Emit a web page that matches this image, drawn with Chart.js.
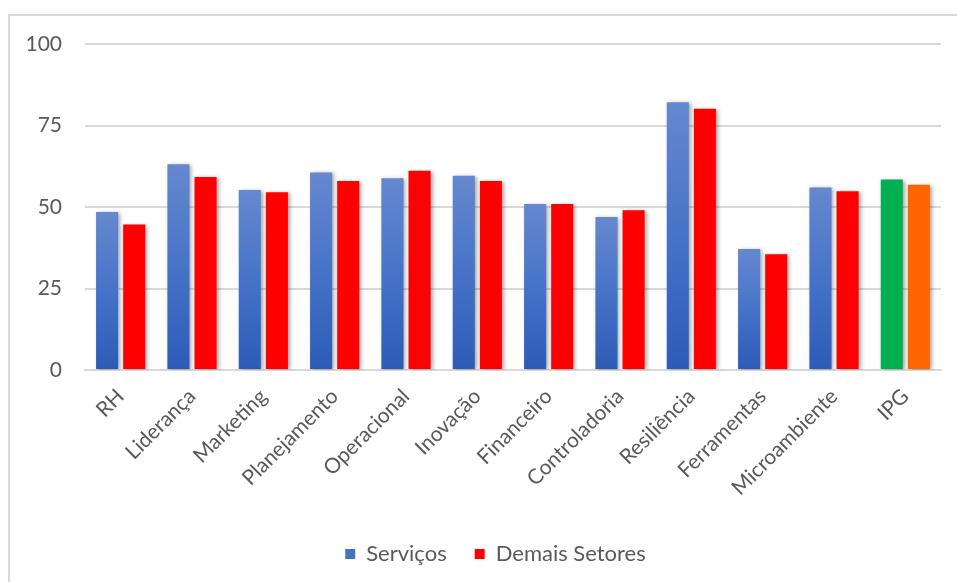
<!DOCTYPE html>
<html>
<head>
<meta charset="utf-8">
<script src="https://cdn.jsdelivr.net/npm/chart.js@4"></script>
<style>
  html, body { margin: 0; padding: 0; background: #fff; }
  #frame {
    position: absolute; left: 8px; top: 14px;
    width: 949px; height: 568px;
    box-sizing: border-box;
    border-top: 2px solid #d9d9d9;
    border-left: 2px solid #d9d9d9;
  }
  #chart { display: block; }
</style>
</head>
<body>
<div id="frame"><canvas id="chart" width="947" height="566"></canvas></div>
<script>
const categories = ['RH', 'Liderança', 'Marketing', 'Planejamento', 'Operacional', 'Inovação',
  'Financeiro', 'Controladoria', 'Resiliência', 'Ferramentas', 'Microambiente', 'IPG'];
const servicos = [48.5, 63.1, 55.2, 60.6, 58.8, 59.6, 50.9, 46.9, 82.1, 37.1, 56.0, 58.4];
const demaisSetores = [44.6, 59.2, 54.5, 58.0, 61.1, 58.0, 50.9, 49.0, 80.1, 35.5, 54.8, 56.8];
const yTicks = [0, 25, 50, 75, 100];

const FONT = 'Lato, "Open Sans", sans-serif';
const TEXT = '#595959';
const GRID = '#d9d9d9';

// vertical blue gradient per bar, light at the top, dark at the base
function blueFill(ctx) {
  const chart = ctx.chart;
  const area = chart.chartArea;
  if (!area || ctx.type !== 'data') return '#4472c4';
  const last = ctx.dataIndex === categories.length - 1;
  if (last) return '#00b050';
  const y = chart.scales.y;
  const top = y.getPixelForValue(ctx.raw);
  const g = chart.ctx.createLinearGradient(0, top, 0, area.bottom);
  g.addColorStop(0, '#6688cf');
  g.addColorStop(0.5, '#4673c8');
  g.addColorStop(1, '#2c5bb7');
  return g;
}

function redFill(ctx) {
  return ctx.dataIndex === categories.length - 1 ? '#ff6600' : '#ff0000';
}

const barShadow = {
  id: 'barShadow',
  beforeDatasetsDraw(chart) {
    const c = chart.ctx;
    c.save();
    c.shadowColor = 'rgba(0,0,0,0.35)';
    c.shadowBlur = 4;
    c.shadowOffsetX = 2;
    c.shadowOffsetY = 1;
  },
  afterDatasetsDraw(chart) {
    chart.ctx.restore();
  }
};

// nudge the legend to the right of the canvas centre
const legendShift = {
  id: 'legendShift',
  afterLayout(chart) {
    const lg = chart.legend;
    lg.left += 20;
    lg.right += 20;
  }
};

new Chart(document.getElementById('chart'), {
  type: 'bar',
  data: {
    labels: categories,
    datasets: [
      { label: 'Serviços', data: servicos, backgroundColor: blueFill },
      { label: 'Demais Setores', data: demaisSetores, backgroundColor: redFill }
    ]
  },
  options: {
    responsive: false,
    animation: false,
    devicePixelRatio: 1,
    categoryPercentage: 0.76,
    barPercentage: 0.815,
    layout: { padding: { top: 28, right: 16, bottom: 7, left: 0 } },
    scales: {
      x: {
        grid: { display: false },
        border: { display: true, color: GRID, width: 2 },
        ticks: {
          color: TEXT,
          font: { family: FONT, size: 21 },
          minRotation: 45,
          maxRotation: 45,
          autoSkip: false,
          padding: 6
        },
        afterFit(scale) { scale.height = 145; }
      },
      y: {
        min: 0,
        max: 100,
        afterBuildTicks(scale) { scale.ticks = yTicks.map(v => ({ value: v })); },
        // invisible tick marks keep the labels clear of the plot
        grid: { color: GRID, lineWidth: 2, drawTicks: true, tickLength: 23, tickColor: 'rgba(0,0,0,0)' },
        border: { display: false },
        ticks: {
          color: TEXT,
          font: { family: FONT, size: 21 },
          padding: 0
        },
        afterFit(scale) { scale.width = 75; }
      }
    },
    plugins: {
      legend: {
        position: 'bottom',
        labels: {
          color: TEXT,
          font: { family: FONT, size: 22 },
          boxWidth: 10,
          boxHeight: 10,
          padding: 28,
          generateLabels(chart) {
            return [
              { text: 'Serviços', fillStyle: '#4472c4', strokeStyle: '#4472c4', lineWidth: 0, datasetIndex: 0, fontColor: TEXT },
              { text: 'Demais Setores', fillStyle: '#ff0000', strokeStyle: '#ff0000', lineWidth: 0, datasetIndex: 1, fontColor: TEXT }
            ];
          }
        }
      },
      tooltip: { enabled: false }
    }
  },
  plugins: [barShadow, legendShift]
});
</script>
</body>
</html>
